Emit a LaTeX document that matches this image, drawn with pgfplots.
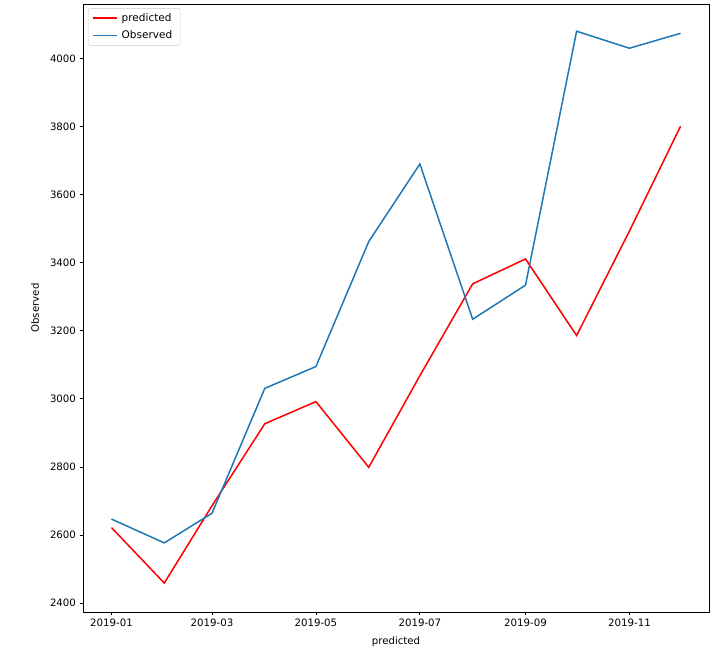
\documentclass[border=0pt]{standalone}
\usepackage{fontspec}
\setmainfont{DejaVu Sans}
\usepackage{pgfplots}
\pgfplotsset{compat=1.18}
\definecolor{tabblue}{HTML}{1F77B4}
\definecolor{legframe}{HTML}{CCCCCC}
\begin{document}
\begin{tikzpicture}[x=1pt,y=1pt]
\useasboundingbox (0,0) rectangle (722,660);
\begin{axis}[
  at={(83pt,48pt)}, anchor=south west,
  scale only axis, width=626pt, height=608pt,
  xmin=-16.7, xmax=350.7, ymin=2374, ymax=4160,
  xtick={0,59,120,181,243,304},
  xticklabels={2019-01,2019-03,2019-05,2019-07,2019-09,2019-11},
  ytick={2400,2600,...,4000},
  tick align=outside, tick pos=left, major tick length=3.5pt,
  every tick/.style={black, line width=0.8pt},
  axis line style={black, line width=0.8pt},
  /pgf/number format/assume math mode=true,
  /pgf/number format/1000 sep={},
  ticklabel style={font=\fontsize{10.2}{12}\selectfont},
  label style={font=\fontsize{10.2}{12}\selectfont},
  xlabel={predicted}, ylabel={Observed},
  xlabel style={yshift=-3pt},
  ylabel style={yshift=4pt},
  legend style={at={(axis description cs:0.008,0.993)}, anchor=north west,
    draw=legframe, rounded corners=2pt, font=\fontsize{10.5}{12}\selectfont,
    row sep=4pt, inner xsep=4pt, inner ysep=3pt},
  legend cell align=left,
  legend image code/.code={\draw[#1] (0pt,0pt) -- (24pt,0pt);},
  legend style={nodes={inner xsep=4pt}},
]
\addplot[red, line width=1.5pt] coordinates {
(0,2622) (31,2459) (59,2686) (90,2927) (120,2992) (151,2799)
(181,3068) (212,3338) (243,3411) (273,3186) (304,3493) (334,3801)
};
\addlegendentry{predicted}
\addplot[tabblue, line width=1.5pt] coordinates {
(0,2647) (31,2577) (59,2664) (90,3031) (120,3095) (151,3462)
(181,3690) (212,3234) (243,3334) (273,4080) (304,4030) (334,4074)
};
\addlegendentry{Observed}
\end{axis}
\end{tikzpicture}
\end{document}
